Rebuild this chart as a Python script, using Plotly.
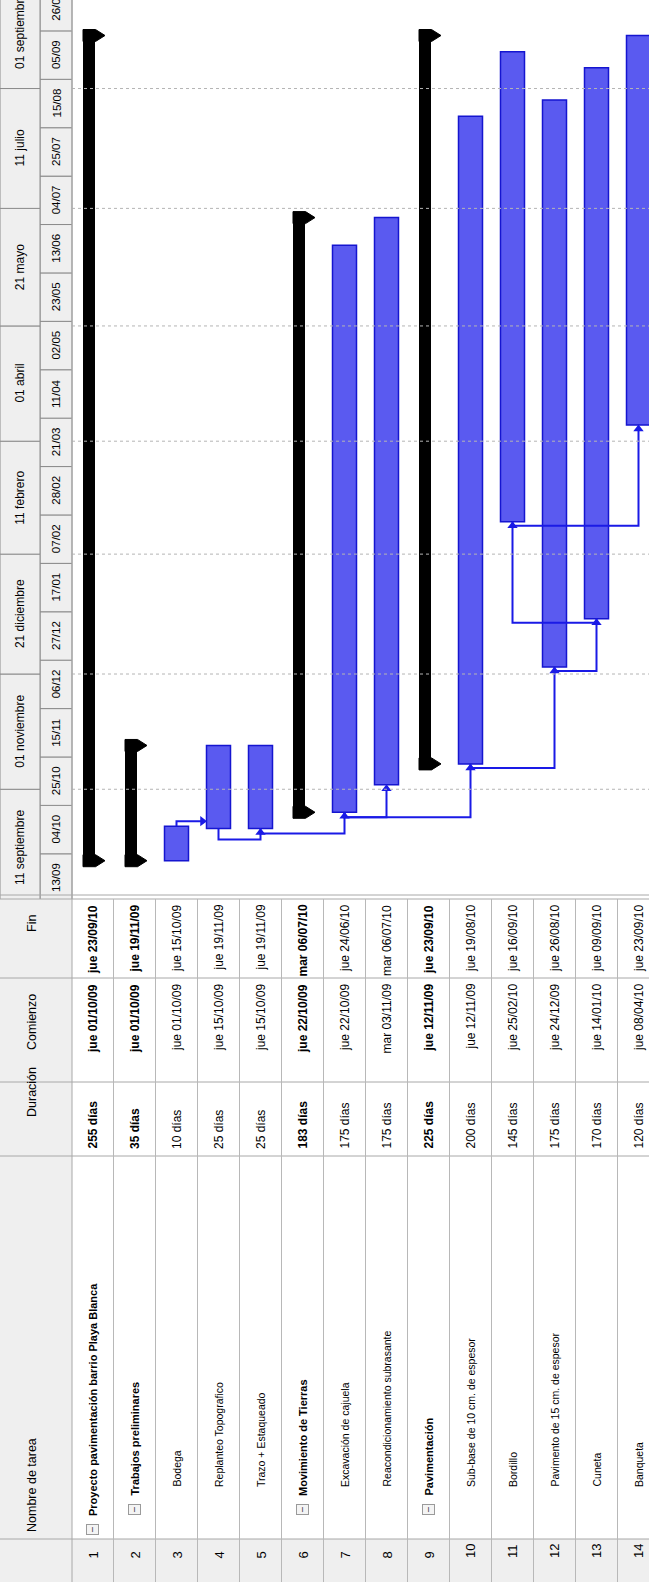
import pandas as pd
import plotly.graph_objects as go

W, H = 649, 1582
FONT = "Liberation Sans, Arial, sans-serif"

# ---------------- data ----------------
task_ids = list(range(1, 15))
task_names = [
    "Proyecto pavimentación barrio Playa Blanca", "Trabajos preliminares", "Bodega",
    "Replanteo Topografico", "Trazo + Estaqueado", "Movimiento de Tierras",
    "Excavación de cajuela", "Reacondicionamiento subrasante", "Pavimentación",
    "Sub-base de 10 cm. de espesor", "Bordillo", "Pavimento de 15 cm. de espesor",
    "Cuneta", "Banqueta",
]
task_levels = [1, 2, 3, 3, 3, 2, 3, 3, 2, 3, 3, 3, 3, 3]
is_summary = [True, True, False, False, False, True, False, False, True,
              False, False, False, False, False]
durations = ["255 días", "35 días", "10 días", "25 días", "25 días", "183 días",
             "175 días", "175 días", "225 días", "200 días", "145 días",
             "175 días", "170 días", "120 días"]
start_labels = ["jue 01/10/09", "jue 01/10/09", "jue 01/10/09", "jue 15/10/09",
                "jue 15/10/09", "jue 22/10/09", "jue 22/10/09", "mar 03/11/09",
                "jue 12/11/09", "jue 12/11/09", "jue 25/02/10", "jue 24/12/09",
                "jue 14/01/10", "jue 08/04/10"]
end_labels = ["jue 23/09/10", "jue 19/11/09", "jue 15/10/09", "jue 19/11/09",
              "jue 19/11/09", "mar 06/07/10", "jue 24/06/10", "mar 06/07/10",
              "jue 23/09/10", "jue 19/08/10", "jue 16/09/10", "jue 26/08/10",
              "jue 09/09/10", "jue 23/09/10"]
# dependency links (predecessor id, successor id, type)
links = [(3, 4, "FS"), (4, 5, "SS"), (5, 7, "SS"), (7, 8, "SS"), (7, 10, "SS"),
         (10, 12, "SS"), (12, 13, "SS"), (13, 11, "SS"), (11, 14, "SS")]
# timescale
tier2_start = "2009-09-13"
tier2_labels = ["13/09", "04/10", "25/10", "15/11", "06/12", "27/12", "17/01",
                "07/02", "28/02", "21/03", "11/04", "02/05", "23/05", "13/06",
                "04/07", "25/07", "15/08", "05/09", "26/09"]
tier1_dates = ["2009-09-11", "2009-11-01", "2009-12-21", "2010-02-11", "2010-04-01",
               "2010-05-21", "2010-07-11", "2010-09-01", "2010-10-21"]
tier1_labels = ["11 septiembre", "01 noviembre", "21 diciembre", "11 febrero",
                "01 abril", "21 mayo", "11 julio", "01 septiembre"]
headers = ["Nombre de tarea", "Duración", "Comienzo", "Fin"]

# ---------------- layout constants ----------------
ROW1_PX, ROW_PX = 92.5, 42.0          # centre of row 1 and row pitch (px from left)
CHART_BOTTOM_PX = 899                 # gantt area: y 0..899 px
Y_BOTTOM = pd.Timestamp("2009-09-14 09:20")
Y_TOP = pd.Timestamp("2010-10-09 09:40")
PX_PER_DAY = CHART_BOTTOM_PX / ((Y_TOP - Y_BOTTOM) / pd.Timedelta(days=1))
# table columns (px from top)
COL_FIN = (899, 978)
COL_COM = (978, 1082)
COL_DUR = (1082, 1156)
COL_NAME = (1156, 1539)
COL_NUM = (1539, 1582)
HDR_CENTERS = [1119, 1022, 924]        # Duración, Comienzo, Fin header text centres
HDR_X = (0, 72)        # header column / timescale (px from left)
TIER_SPLIT = 40

def rx(px):            # px from left -> row units
    return 1 + (px - ROW1_PX) / ROW_PX

def dpx(px):           # px -> time delta
    return pd.Timedelta(days=px / PX_PER_DAY)

def yp(px):            # px from top -> paper
    return 1 - px / H

def ds(t):
    return pd.Timestamp(t).strftime("%Y-%m-%d %H:%M:%S")

def parse(lbl):
    return pd.to_datetime(lbl.split()[1], format="%d/%m/%y")

starts = [parse(s) for s in start_labels]
ends = [parse(s) + pd.Timedelta(days=1) for s in end_labels]

BAR_FILL = "#5a5af0"
BAR_LINE = "#1515d0"
LINK = "#1a1ae6"
GRID = "#b4b4b4"
HDR_BG = "#efefef"
TXT = "#000000"

fig = go.Figure()
shapes, annotations = [], []

# ---------- timescale header ----------
t2 = pd.Timestamp(tier2_start)
for k, lab in enumerate(tier2_labels):
    a = t2 + pd.Timedelta(days=21 * k)
    b = a + pd.Timedelta(days=21)
    shapes.append(dict(type="rect", xref="x", yref="y", x0=rx(TIER_SPLIT), x1=rx(HDR_X[1]),
                       y0=ds(a), y1=ds(b), fillcolor=HDR_BG,
                       line=dict(color="#8c8c8c", width=1), layer="below"))
    annotations.append(dict(xref="x", yref="y", x=rx((TIER_SPLIT + HDR_X[1]) / 2),
                            y=ds(a + pd.Timedelta(days=10.5)), text=lab, textangle=-90,
                            showarrow=False, font=dict(family=FONT, size=11.5, color=TXT)))
for k, lab in enumerate(tier1_labels):
    a = pd.Timestamp(tier1_dates[k]); b = pd.Timestamp(tier1_dates[k + 1])
    shapes.append(dict(type="rect", xref="x", yref="y", x0=rx(0), x1=rx(TIER_SPLIT),
                       y0=ds(a), y1=ds(b), fillcolor=HDR_BG,
                       line=dict(color="#8c8c8c", width=1), layer="below"))
    annotations.append(dict(xref="x", yref="y", x=rx(TIER_SPLIT / 2),
                            y=ds(a + (b - a) / 2), text=lab, textangle=-90,
                            showarrow=False, font=dict(family=FONT, size=12, color=TXT)))
    if k > 0:
        shapes.append(dict(type="line", xref="x", yref="y", x0=rx(HDR_X[1]), x1=rx(W),
                           y0=ds(a), y1=ds(a), line=dict(color=GRID, width=1, dash="dot")))

# ---------- task bars ----------
normal = [i for i in range(14) if not is_summary[i]]
summ = [i for i in range(14) if is_summary[i]]
fig.add_trace(go.Bar(
    x=[task_ids[i] for i in normal],
    y=[(ends[i] - starts[i]).total_seconds() * 1000 for i in normal],
    base=[ds(starts[i]) for i in normal],
    width=24 / ROW_PX, marker=dict(color=BAR_FILL, line=dict(color=BAR_LINE, width=1.5)),
    hoverinfo="skip", showlegend=False))
SW = 12 / ROW_PX
fig.add_trace(go.Bar(
    x=[task_ids[i] for i in summ],
    y=[(ends[i] - starts[i]).total_seconds() * 1000 for i in summ],
    base=[ds(starts[i]) for i in summ],
    width=SW, offset=-SW / 2 - 3.5 / ROW_PX,
    marker=dict(color="#000000", line=dict(width=0)),
    hoverinfo="skip", showlegend=False))
for i in summ:
    c = task_ids[i]
    xl, xm, xt = c - 9.5 / ROW_PX, c + 3 / ROW_PX, c + 12.5 / ROW_PX
    for e in (starts[i], ends[i]):
        ys = [e - dpx(6), e - dpx(6), e, e + dpx(6), e + dpx(6), e - dpx(6)]
        fig.add_trace(go.Scatter(x=[xl, xm, xt, xm, xl, xl], y=[ds(v) for v in ys],
                                 mode="lines", fill="toself", fillcolor="#000",
                                 line=dict(color="#000", width=1), hoverinfo="skip",
                                 showlegend=False))

# ---------- links ----------
drops = {(4, 5): 11, (5, 7): 5, (7, 8): 5, (7, 10): 5, (10, 12): 4,
         (12, 13): 4, (13, 11): 4, (11, 14): 4}
for p, s, typ in links:
    pi, si = p - 1, s - 1
    if typ == "FS":
        yv = ends[pi] + dpx(5)
        xa = s - 12 / ROW_PX - 4 / ROW_PX
        fig.add_trace(go.Scatter(x=[p, p, xa], y=[ds(ends[pi]), ds(yv), ds(yv)],
                                 mode="lines", line=dict(color=LINK, width=2),
                                 hoverinfo="skip", showlegend=False))
        fig.add_trace(go.Scatter(x=[xa], y=[ds(yv)], mode="markers",
                                 marker=dict(symbol="triangle-right", size=9, color=LINK),
                                 hoverinfo="skip", showlegend=False))
    else:
        yv = starts[pi] - dpx(drops[(p, s)])
        tip = starts[si] - dpx(4)
        fig.add_trace(go.Scatter(x=[p, p, s, s], y=[ds(starts[pi]), ds(yv), ds(yv), ds(tip)],
                                 mode="lines", line=dict(color=LINK, width=2),
                                 hoverinfo="skip", showlegend=False))
        fig.add_trace(go.Scatter(x=[s], y=[ds(tip)], mode="markers",
                                 marker=dict(symbol="triangle-up", size=9, color=LINK),
                                 hoverinfo="skip", showlegend=False))

# ---------- table ----------
TOP = COL_FIN[0]
shapes.append(dict(type="rect", xref="paper", yref="paper", x0=0, x1=HDR_X[1] / W,
                   y0=yp(H), y1=yp(TOP), fillcolor=HDR_BG, line=dict(width=0), layer="below"))
shapes.append(dict(type="rect", xref="paper", yref="paper", x0=HDR_X[1] / W, x1=1,
                   y0=yp(COL_NUM[1]), y1=yp(COL_NUM[0]), fillcolor=HDR_BG,
                   line=dict(width=0), layer="below"))
for b in [COL_FIN[0], COL_COM[0], COL_DUR[0], COL_NAME[0], COL_NUM[0]]:
    shapes.append(dict(type="line", xref="paper", yref="paper", x0=0, x1=1,
                       y0=yp(b), y1=yp(b), line=dict(color="#a8a8a8", width=1)))
shapes.append(dict(type="line", xref="paper", yref="paper", x0=0, x1=1,
                   y0=yp(TOP - 4), y1=yp(TOP - 4), line=dict(color="#a8a8a8", width=1)))
shapes.append(dict(type="line", xref="paper", yref="paper", x0=HDR_X[1] / W, x1=HDR_X[1] / W,
                   y0=0, y1=1, line=dict(color="#a8a8a8", width=1)))
for r in task_ids:
    shapes.append(dict(type="line", xref="x", yref="paper", x0=r + 0.5, x1=r + 0.5,
                       y0=yp(H), y1=yp(TOP), line=dict(color="#b8b8b8", width=1)))

hx = rx(HDR_X[1] / 2 - 4)
annotations.append(dict(xref="x", yref="paper", x=hx, y=yp(COL_NAME[1] - 5), yanchor="bottom",
                        text=headers[0], textangle=-90, showarrow=False,
                        font=dict(family=FONT, size=12.5, color=TXT)))
for txt, cy in zip(headers[1:], HDR_CENTERS):
    annotations.append(dict(xref="x", yref="paper", x=hx, y=yp(cy),
                            text=txt, textangle=-90, showarrow=False,
                            font=dict(family=FONT, size=12.5, color=TXT)))

for i, r in enumerate(task_ids):
    bold = is_summary[i]
    wrap = (lambda t: "<b>" + t + "</b>") if bold else (lambda t: t)
    annotations.append(dict(xref="x", yref="paper", x=r, y=yp(sum(COL_NUM) / 2),
                            text=str(r), textangle=-90, showarrow=False,
                            font=dict(family=FONT, size=13, color=TXT)))
    lvl = task_levels[i]
    if bold:
        box_bottom = COL_NAME[1] - 4 - 20 * (lvl - 1)
        annotations.append(dict(xref="x", yref="paper", x=r, y=yp(box_bottom), yanchor="bottom",
                                text="−", textangle=-90, showarrow=False, bordercolor="#9a9a9a",
                                borderwidth=1, borderpad=1, bgcolor="#f4f4f4",
                                font=dict(family="DejaVu Sans", size=8, color="#222")))
        name_bottom = box_bottom - 17
        nsz = 11
    else:
        name_bottom = COL_NAME[1] - 50
        nsz = 10.5
    annotations.append(dict(xref="x", yref="paper", x=r, y=yp(name_bottom), yanchor="bottom",
                            text=wrap(task_names[i]), textangle=-90, showarrow=False,
                            font=dict(family=FONT, size=nsz, color=TXT)))
    # duration: aligned to the lower edge of its column; dates: upper edge
    annotations.append(dict(xref="x", yref="paper", x=r, y=yp(COL_DUR[1] - 5), yanchor="bottom",
                            text=wrap(durations[i]), textangle=-90, showarrow=False,
                            font=dict(family=FONT, size=12, color=TXT)))
    for txt, col in [(start_labels[i], COL_COM), (end_labels[i], COL_FIN)]:
        annotations.append(dict(xref="x", yref="paper", x=r, y=yp(col[0] + 4), yanchor="top",
                                text=wrap(txt), textangle=-90, showarrow=False,
                                font=dict(family=FONT, size=12, color=TXT)))

fig.update_layout(
    width=W, height=H, margin=dict(l=0, r=0, t=0, b=0),
    paper_bgcolor="white", plot_bgcolor="white", barmode="overlay",
    showlegend=False, shapes=shapes, annotations=annotations,
    xaxis=dict(range=[rx(0), rx(W)], visible=False, fixedrange=True),
    yaxis=dict(type="date", range=[ds(Y_BOTTOM), ds(Y_TOP)],
               domain=[yp(CHART_BOTTOM_PX), 1], visible=False, fixedrange=True),
)
fig.write_html("out.html")
